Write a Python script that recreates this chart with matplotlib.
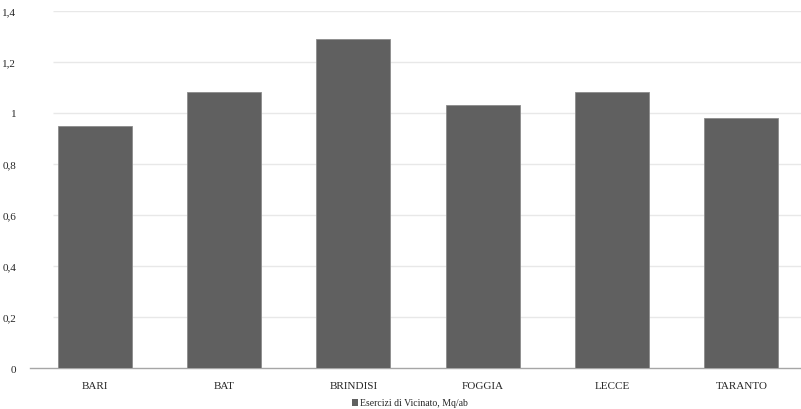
import matplotlib
matplotlib.use("Agg")
import matplotlib.pyplot as plt
from matplotlib.ticker import FuncFormatter
from matplotlib.patches import Patch

categories = ["BARI", "BAT", "BRINDISI", "FOGGIA", "LECCE", "TARANTO"]
values = [0.95, 1.08, 1.29, 1.03, 1.08, 0.98]
series_name = "Esercizi di Vicinato, Mq/ab"
y_ticks = [0, 0.2, 0.4, 0.6, 0.8, 1.0, 1.2, 1.4]

plt.rcParams["font.family"] = ["Liberation Serif", "DejaVu Serif"]

W, H = 801, 410
fig = plt.figure(figsize=(W / 100, H / 100), dpi=100)
left, right = 30, 806
bottom, top = 369.3, 11.7
ax = fig.add_axes([left / W, (H - bottom) / H, (right - left) / W, (bottom - top) / H])

bar_color = "#606060"
x = range(len(categories))
ax.bar(x, values, width=0.572, color=bar_color, edgecolor="#8c8c8c", linewidth=0.6, zorder=3)

ax.set_xlim(-0.5, len(categories) - 0.5)
ax.set_ylim(0, 1.4)
ax.set_yticks(y_ticks)


def fmt(v, _):
    s = f"{v:.1f}".rstrip("0").rstrip(".")
    return s.replace(".", ",")


ax.yaxis.set_major_formatter(FuncFormatter(fmt))
ax.set_xticks(list(x))
ax.set_xticklabels(categories)

# horizontal gridlines start a little to the right of the axis origin
ax.hlines(y_ticks[1:], -0.32, len(categories) - 0.5, color="#e8e8e8", linewidth=1.0, zorder=0)
for s in ["top", "right", "left"]:
    ax.spines[s].set_visible(False)
ax.spines["bottom"].set_color("#a6a6a6")
ax.spines["bottom"].set_linewidth(1.0)
ax.tick_params(axis="both", length=0, labelsize=8, colors="#262626")
ax.tick_params(axis="x", pad=9)
ax.tick_params(axis="y", pad=10)

handle = Patch(facecolor=bar_color, edgecolor="none")
fig.legend([handle], [series_name], loc="center", bbox_to_anchor=(410 / W, (H - 404) / H),
           frameon=False, fontsize=7, handlelength=0.7, handleheight=0.7, handletextpad=0.2,
           labelcolor="#262626")

fig.savefig("out.png", dpi=100)
